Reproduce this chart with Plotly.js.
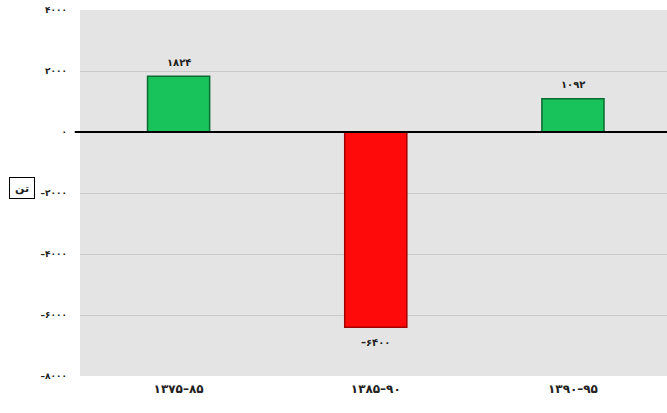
<!DOCTYPE html>
<html><head><meta charset="utf-8">
<script src="https://cdn.plot.ly/plotly-3.0.1.min.js"></script>
<style>body{margin:0;padding:0;background:#fff}#chart{width:667px;height:413px}</style>
</head><body><div id="chart"></div>
<script>
const categories = ['۱۳۷۵–۸۵', '۱۳۸۵–۹۰', '۱۳۹۰–۹۵'];
const values = [1824, -6400, 1092];
const valueLabels = ['۱۸۲۴', '–۶۴۰۰', '۱۰۹۲'];
const yTickVals = [4000, 2000, 0, -2000, -4000, -6000, -8000];
const yTickText = ['۴۰۰۰', '۲۰۰۰', '۰', '–۲۰۰۰', '–۴۰۰۰', '–۶۰۰۰', '–۸۰۰۰'];
const yLabel = 'تن';

const fills = values.map(v => v >= 0 ? '#17c35a' : '#ff0a0a');
const lines = values.map(v => v >= 0 ? '#0b6b31' : '#a30000');

const trace = {
  type: 'bar', x: categories, y: values,
  width: 0.315,
  marker: {color: fills, line: {color: lines, width: 1.5}},
  hoverinfo: 'none'
};

const valueAnnotations = categories.map((c, i) => ({
  x: c, y: values[i], xref: 'x', yref: 'y', text: valueLabels[i], showarrow: false,
  yanchor: 'middle', yshift: values[i] >= 0 ? 14 : -15,
  font: {family: 'DejaVu Sans', size: 10, color: '#222', weight: 'bold'}
}));

const layout = {
  width: 667, height: 413,
  margin: {l: 80, r: 0, t: 10, b: 37},
  paper_bgcolor: '#ffffff', plot_bgcolor: '#e4e4e4',
  showlegend: false,
  xaxis: {range: [-0.5, 2.477], showgrid: false, zeroline: false, showline: false,
    ticks: '', ticklabelstandoff: 4,
    tickfont: {family: 'DejaVu Sans', size: 12, color: '#222', weight: 'bold'}, fixedrange: true},
  yaxis: {range: [-8000, 4000], tickvals: yTickVals, ticktext: yTickText,
    showgrid: true, gridcolor: '#c9c9c9', gridwidth: 1, zeroline: false,
    ticks: '', ticklabelstandoff: 12,
    tickfont: {family: 'DejaVu Sans', size: 9, color: '#222', weight: 'bold'}, fixedrange: true},
  shapes: [{type: 'line', xref: 'paper', yref: 'y', x0: -0.009, x1: 1, y0: 0, y1: 0,
    line: {color: '#000', width: 2}}],
  annotations: valueAnnotations.concat([{xref: 'paper', yref: 'paper', x: -0.098, y: 0.514,
    xanchor: 'center', yanchor: 'middle',
    text: yLabel, showarrow: false, font: {family: 'DejaVu Sans', size: 11, color: '#222', weight: 'bold'},
    bordercolor: '#000', borderwidth: 1, borderpad: 3, bgcolor: '#fff', width: 18, height: 14}])
};

Plotly.newPlot('chart', [trace], layout, {staticPlot: true, displayModeBar: false});
</script></body></html>
